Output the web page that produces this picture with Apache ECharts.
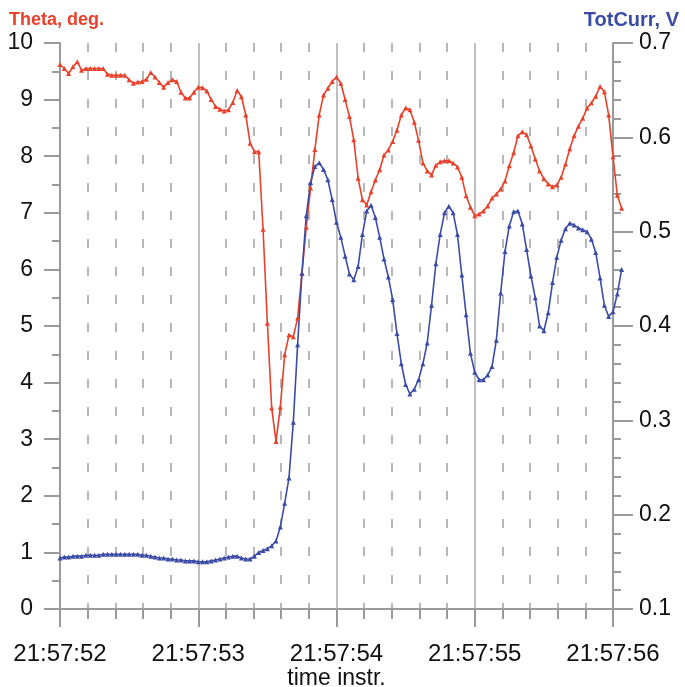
<!DOCTYPE html>
<html>
<head>
<meta charset="utf-8">
<script src="https://cdn.jsdelivr.net/npm/echarts@6/dist/echarts.min.js"></script>
<style>
html,body{margin:0;padding:0;background:#fff;}
#chart{width:685px;height:687px;}
</style>
</head>
<body>
<div id="chart"></div>
<script>
// ---- data ----
const T0 = 52;            // seconds past 21:57
const SAMPLE_RATE = 32;   // samples per second
const xTickLabels = ['21:57:52', '21:57:53', '21:57:54', '21:57:55', '21:57:56'];
const thetaTicks = [0, 1, 2, 3, 4, 5, 6, 7, 8, 9, 10];
const currTicks = ['0.1', '0.2', '0.3', '0.4', '0.5', '0.6', '0.7'];

const theta = [
  9.62, 9.55, 9.46, 9.58, 9.67, 9.52, 9.55, 9.55, 9.55, 9.55,
  9.55, 9.45, 9.43, 9.43, 9.43, 9.43, 9.35, 9.29, 9.31, 9.32,
  9.36, 9.48, 9.40, 9.30, 9.22, 9.30, 9.35, 9.32, 9.13, 9.03,
  9.03, 9.13, 9.22, 9.21, 9.15, 9.00, 8.88, 8.83, 8.80, 8.82,
  8.95, 9.16, 9.05, 8.73, 8.23, 8.08, 8.08, 6.71, 5.05, 3.55,
  2.96, 3.57, 4.49, 4.84, 4.81, 5.14, 5.93, 6.75, 7.44, 8.12,
  8.73, 9.08, 9.20, 9.32, 9.40, 9.29, 9.00, 8.70, 8.29, 7.61,
  7.23, 7.14, 7.37, 7.58, 7.76, 8.02, 8.11, 8.26, 8.46, 8.73,
  8.85, 8.82, 8.60, 8.28, 7.88, 7.74, 7.67, 7.84, 7.90, 7.92,
  7.92, 7.88, 7.81, 7.63, 7.30, 7.10, 6.95, 6.98, 7.03, 7.12,
  7.26, 7.33, 7.42, 7.56, 7.83, 8.06, 8.36, 8.43, 8.38, 8.18,
  7.95, 7.74, 7.60, 7.51, 7.46, 7.49, 7.63, 7.86, 8.13, 8.36,
  8.53, 8.67, 8.85, 8.94, 9.06, 9.23, 9.14, 8.73, 7.99, 7.31,
  7.08
];

const totCurr = [
  0.154, 0.155, 0.155, 0.156, 0.156, 0.156, 0.157, 0.157, 0.157, 0.157,
  0.158, 0.158, 0.158, 0.158, 0.158, 0.158, 0.158, 0.158, 0.158, 0.157,
  0.157, 0.156, 0.155, 0.154, 0.154, 0.153, 0.153, 0.152, 0.152, 0.151,
  0.151, 0.151, 0.150, 0.150, 0.150, 0.151, 0.152, 0.153, 0.154, 0.155,
  0.156, 0.156, 0.154, 0.153, 0.153, 0.156, 0.160, 0.162, 0.164, 0.167,
  0.172, 0.187, 0.212, 0.239, 0.298, 0.380, 0.456, 0.517, 0.552, 0.569,
  0.573, 0.566, 0.555, 0.534, 0.510, 0.494, 0.474, 0.455, 0.449, 0.463,
  0.497, 0.522, 0.528, 0.515, 0.494, 0.471, 0.452, 0.428, 0.392, 0.360,
  0.338, 0.328, 0.333, 0.343, 0.360, 0.382, 0.422, 0.466, 0.497, 0.520,
  0.527, 0.520, 0.497, 0.454, 0.412, 0.371, 0.351, 0.343, 0.343, 0.348,
  0.357, 0.385, 0.435, 0.479, 0.506, 0.521, 0.522, 0.508, 0.481, 0.453,
  0.430, 0.400, 0.395, 0.414, 0.446, 0.473, 0.491, 0.503, 0.509, 0.507,
  0.504, 0.502, 0.500, 0.492, 0.478, 0.451, 0.422, 0.410, 0.415, 0.434,
  0.460
];

// ---- chart ----
const RED = '#e8402a';
const BLUE = '#3a4ca6';
const AXIS = '#9a9a9a';
const FONT = '"Liberation Sans", Arial, Helvetica, sans-serif';
const W = 685;

// axes frame (visible) and a slightly wider data frame so the last samples
// (just past 21:57:56) are drawn outside the right axis, as in the original
const G_LEFT = 60, G_RIGHT_AXES = 72, G_RIGHT_DATA = 61, G_TOP = 43, G_BOTTOM = 78;
const X_MIN = T0, X_MAX = T0 + xTickLabels.length - 1;
const axesWidth = W - G_LEFT - G_RIGHT_AXES;
const dataWidth = W - G_LEFT - G_RIGHT_DATA;
const X_MAX_DATA = X_MIN + (X_MAX - X_MIN) * dataWidth / axesWidth;

const Y1_MIN = thetaTicks[0], Y1_MAX = thetaTicks[thetaTicks.length - 1];
const Y2_MIN = 0.1, Y2_MAX = 0.7;

const pairs = (vals) => vals.map((v, i) => [T0 + i / SAMPLE_RATE, v]);

const labelStyle = {color: '#111', fontSize: 23, fontFamily: FONT};

const chart = echarts.init(document.getElementById('chart'), null, {renderer: 'canvas'});
chart.setOption({
  animation: false,
  backgroundColor: '#fff',
  textStyle: {fontFamily: FONT},
  title: [
    {text: 'Theta, deg.', left: 4, top: 6,
     textStyle: {color: RED, fontSize: 18, fontWeight: 'bold', fontFamily: FONT}},
    {text: 'TotCurr, V', right: 1, top: 5,
     textStyle: {color: BLUE, fontSize: 20, fontWeight: 'bold', fontFamily: FONT}}
  ],
  grid: [
    {left: G_LEFT, right: G_RIGHT_AXES, top: G_TOP, bottom: G_BOTTOM,
     containLabel: false, outerBoundsMode: 'none'},
    {left: G_LEFT, right: G_RIGHT_DATA, top: G_TOP, bottom: G_BOTTOM,
     containLabel: false, outerBoundsMode: 'none'}
  ],
  xAxis: [
    {
      gridIndex: 0, type: 'value', min: X_MIN, max: X_MAX, interval: 1,
      name: 'time instr.', nameLocation: 'middle', nameGap: 70, nameMoveOverlap: false,
      nameTextStyle: {color: '#111', fontSize: 23, fontFamily: FONT, verticalAlign: 'middle'},
      axisLine: {show: true, onZero: false, lineStyle: {color: AXIS, width: 2}},
      axisTick: {show: true, length: 18, lineStyle: {color: AXIS, width: 2}},
      minorTick: {show: true, splitNumber: 5, length: 10, lineStyle: {color: AXIS, width: 2}},
      splitLine: {show: true, lineStyle: {color: '#aaaaaa', width: 1.5}},
      minorSplitLine: {show: true, lineStyle: {color: '#a0a0a0', width: 1.5, type: [9, 19]}},
      axisLabel: Object.assign({}, labelStyle, {fontSize: 24, margin: 33,
        formatter: (v) => xTickLabels[Math.round(v - T0)]})
    },
    {gridIndex: 1, type: 'value', min: X_MIN, max: X_MAX_DATA, show: false}
  ],
  yAxis: [
    {
      gridIndex: 0, type: 'value', min: Y1_MIN, max: Y1_MAX, interval: 1,
      position: 'left',
      axisLine: {show: true, lineStyle: {color: AXIS, width: 2}},
      axisTick: {show: true, length: 16, lineStyle: {color: AXIS, width: 2}},
      minorTick: {show: true, splitNumber: 2, length: 8, lineStyle: {color: AXIS, width: 2}},
      splitLine: {show: false},
      axisLabel: Object.assign({margin: 27}, labelStyle)
    },
    {
      gridIndex: 0, type: 'value', min: Y2_MIN, max: Y2_MAX, interval: 0.1,
      position: 'right',
      axisLine: {show: true, lineStyle: {color: AXIS, width: 2}},
      axisTick: {show: true, length: 20, lineStyle: {color: AXIS, width: 2}},
      minorTick: {show: true, splitNumber: 5, length: 8, lineStyle: {color: AXIS, width: 2}},
      splitLine: {show: false},
      axisLabel: Object.assign({margin: 26,
        formatter: (v) => currTicks[Math.round((v - Y2_MIN) * 10)]}, labelStyle)
    },
    {gridIndex: 1, type: 'value', min: Y1_MIN, max: Y1_MAX, show: false, splitLine: {show: false}},
    {gridIndex: 1, type: 'value', min: Y2_MIN, max: Y2_MAX, show: false, splitLine: {show: false}}
  ],
  series: [
    {
      name: 'Theta', type: 'line', xAxisIndex: 1, yAxisIndex: 2, data: pairs(theta),
      symbol: 'triangle', symbolSize: 5, showSymbol: true,
      lineStyle: {color: RED, width: 1.6}, itemStyle: {color: RED}
    },
    {
      name: 'TotCurr', type: 'line', xAxisIndex: 1, yAxisIndex: 3, data: pairs(totCurr),
      symbol: 'triangle', symbolSize: 5, showSymbol: true,
      lineStyle: {color: BLUE, width: 1.6}, itemStyle: {color: BLUE}
    }
  ]
});
</script>
</body>
</html>
